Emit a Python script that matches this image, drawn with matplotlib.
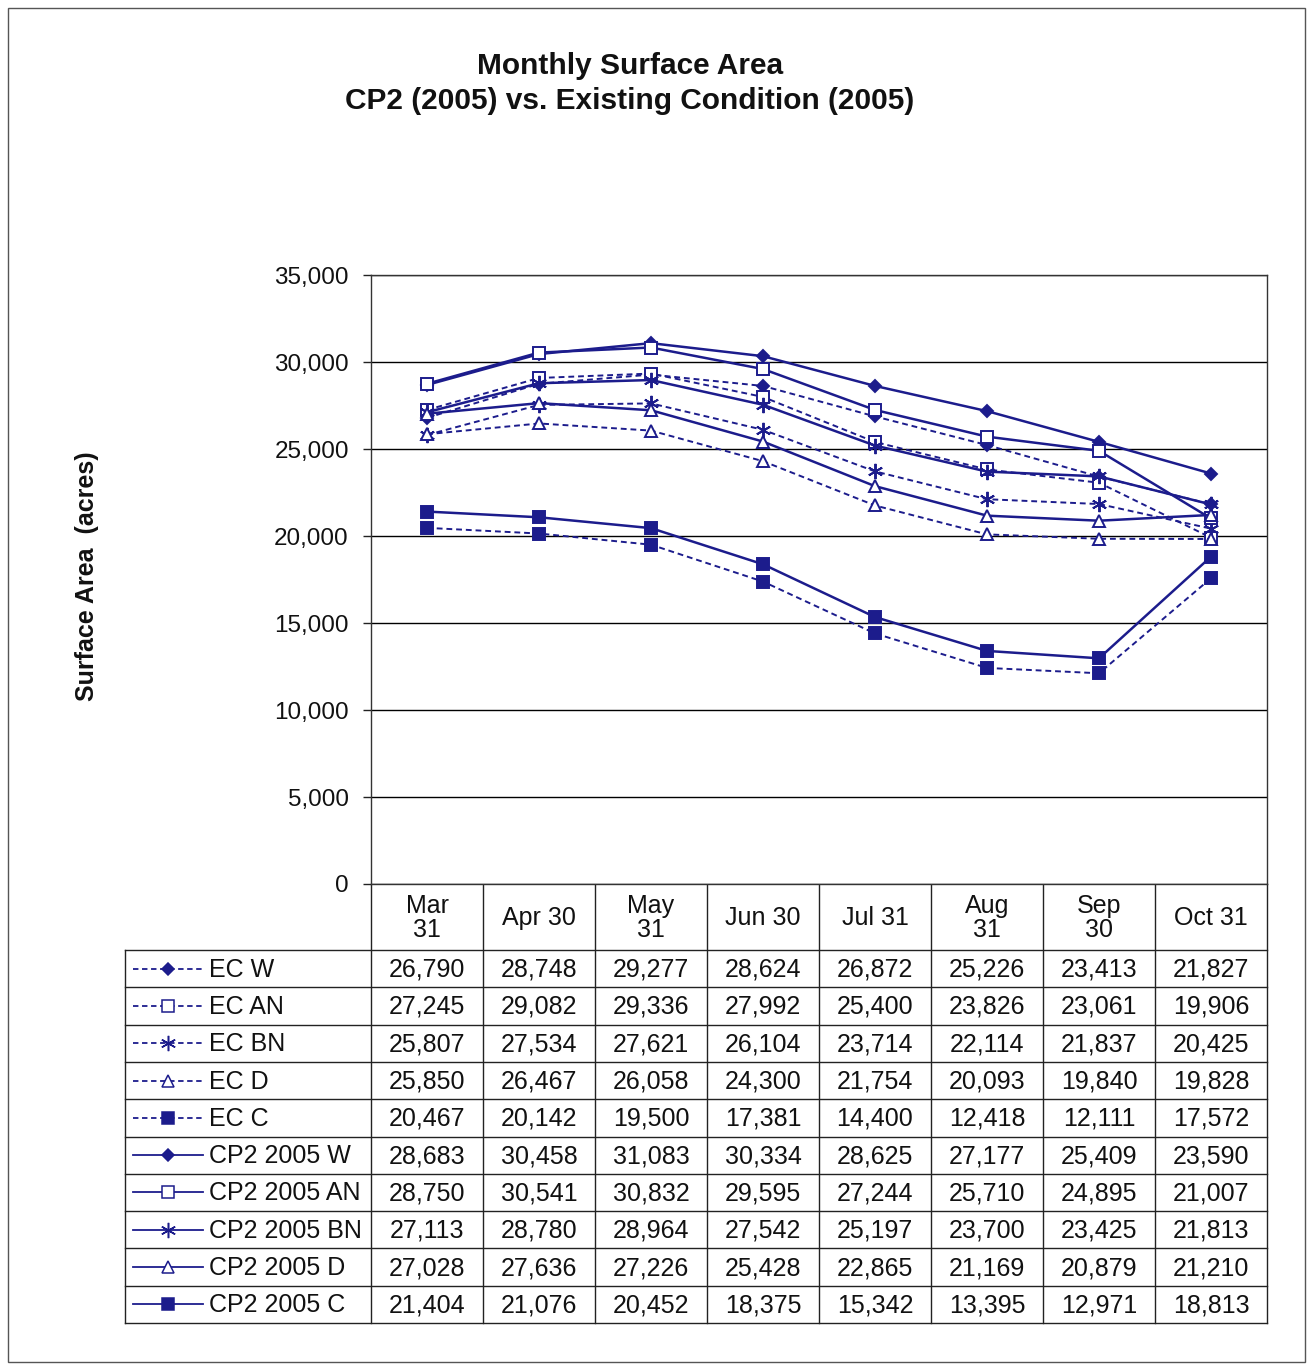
import numpy as np
import matplotlib
matplotlib.use("Agg")
import matplotlib.pyplot as plt
from matplotlib.lines import Line2D
from matplotlib.patches import Rectangle
from matplotlib.ticker import FuncFormatter, MultipleLocator

plt.rcParams['font.family'] = ['Liberation Sans', 'DejaVu Sans']

categories = ["Mar\n31", "Apr 30", "May\n31", "Jun 30", "Jul 31", "Aug\n31", "Sep\n30", "Oct 31"]

ec_w  = [26790, 28748, 29277, 28624, 26872, 25226, 23413, 21827]
ec_an = [27245, 29082, 29336, 27992, 25400, 23826, 23061, 19906]
ec_bn = [25807, 27534, 27621, 26104, 23714, 22114, 21837, 20425]
ec_d  = [25850, 26467, 26058, 24300, 21754, 20093, 19840, 19828]
ec_c  = [20467, 20142, 19500, 17381, 14400, 12418, 12111, 17572]
cp_w  = [28683, 30458, 31083, 30334, 28625, 27177, 25409, 23590]
cp_an = [28750, 30541, 30832, 29595, 27244, 25710, 24895, 21007]
cp_bn = [27113, 28780, 28964, 27542, 25197, 23700, 23425, 21813]
cp_d  = [27028, 27636, 27226, 25428, 22865, 21169, 20879, 21210]
cp_c  = [21404, 21076, 20452, 18375, 15342, 13395, 12971, 18813]

series_names = ["EC W", "EC AN", "EC BN", "EC D", "EC C",
                "CP2 2005 W", "CP2 2005 AN", "CP2 2005 BN", "CP2 2005 D", "CP2 2005 C"]
series_values = [ec_w, ec_an, ec_bn, ec_d, ec_c, cp_w, cp_an, cp_bn, cp_d, cp_c]

NAVY = '#1c1c8c'
ASTER = (6, 2, 0)
marker_styles = [
    dict(marker='D', ms=6.5, mfc=NAVY),
    dict(marker='s', ms=8.5, mfc='white'),
    dict(marker=ASTER, ms=11, mfc=NAVY),
    dict(marker='^', ms=8.5, mfc='white'),
    dict(marker='s', ms=8.5, mfc=NAVY),
]
styles = []
for i in range(10):
    s = dict(marker_styles[i % 5])
    s['ls'] = (0, (3, 2)) if i < 5 else '-'
    s['lw'] = 1.4 if i < 5 else 1.8
    styles.append(s)

FS = 18
TXT = '#111111'
W, H = 1313, 1369
fig = plt.figure(figsize=(W / 100, H / 100), dpi=100)

# outer border
bg = fig.add_axes([0, 0, 1, 1])
bg.set_xlim(0, W)
bg.set_ylim(H, 0)
bg.axis('off')
bg.add_patch(Rectangle((8, 8), 1297, 1354, fill=False, ec='#555555', lw=1.0))

# plot area
PL, PR, PT, PB = 371, 1267, 275, 884
ax = fig.add_axes([PL / W, 1 - PB / H, (PR - PL) / W, (PB - PT) / H])
x = np.arange(len(categories))
for vals, st in zip(series_values, styles):
    ax.plot(x, vals, color=NAVY, mec=NAVY, mew=1.4, **st)
ax.set_xlim(-0.5, len(categories) - 0.5)
ax.set_ylim(0, 35000)
ax.yaxis.set_major_locator(MultipleLocator(5000))
ax.yaxis.set_major_formatter(FuncFormatter(lambda v, p: f"{int(v):,}"))
ax.grid(axis='y', color='black', lw=1.0)
ax.set_axisbelow(True)
ax.set_xticks([])
ax.tick_params(axis='y', direction='out', length=6, width=1, labelsize=FS - 0.5, pad=10,
               colors='#222222', labelcolor=TXT)
for sp in ax.spines.values():
    sp.set_color('#333333')
    sp.set_linewidth(1.0)

fig.text(630 / W, 1 - 66 / H, "Monthly Surface Area", ha='center', va='center',
         fontsize=21.5, fontweight='bold', color=TXT)
fig.text(630 / W, 1 - 101 / H, "CP2 (2005) vs. Existing Condition (2005)", ha='center',
         va='center', fontsize=21.5, fontweight='bold', color=TXT)
fig.text(87 / W, 1 - 576 / H, "Surface Area  (acres)", rotation=90, ha='center',
         va='center', fontsize=FS, fontweight='bold', color=TXT)

# data table
LC = 125
col_edges = np.linspace(PL, PR, len(categories) + 1)
HT, HB = PB, 950
TB = 1323
row_h = (TB - HB) / len(series_names)
lc = '#222222'
# header
for i, cat in enumerate(categories):
    cx = (col_edges[i] + col_edges[i + 1]) / 2
    bg.text(cx, (HT + HB) / 2 + 1, cat, ha='center', va='center', fontsize=FS,
            linespacing=1.0, color=TXT)
for xe in col_edges:
    bg.plot([xe, xe], [HT, TB], color=lc, lw=1.0)
bg.plot([LC, LC], [HB, TB], color=lc, lw=1.0)
for r in range(len(series_names) + 1):
    y = HB + r * row_h
    bg.plot([LC, PR], [y, y], color=lc, lw=1.0)
for r, (name, vals, st) in enumerate(zip(series_names, series_values, styles)):
    cy = HB + (r + 0.5) * row_h
    for i, v in enumerate(vals):
        cx = (col_edges[i] + col_edges[i + 1]) / 2
        bg.text(cx, cy + 1, f"{v:,}", ha='center', va='center', fontsize=FS, color=TXT)
    leg_st = {**st, 'lw': 1.3}
    bg.add_line(Line2D([133, 168, 203], [cy, cy, cy], color=NAVY, mec=NAVY, mew=1.1,
                       markevery=[1], **leg_st))
    bg.text(209, cy + 1, name, ha='left', va='center', fontsize=FS, color=TXT)

fig.savefig("out.png", dpi=100)
